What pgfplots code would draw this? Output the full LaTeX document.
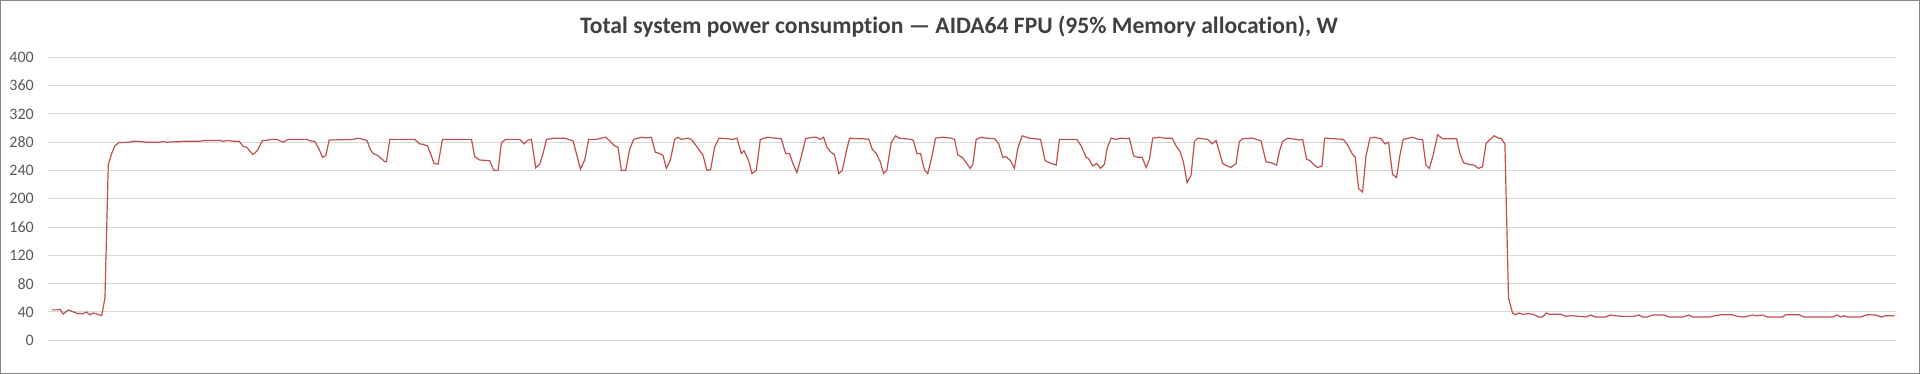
\documentclass[border=0pt]{standalone}
\usepackage{pgfplots}
\pgfplotsset{compat=1.18}
\usepackage{fontspec}
\setmainfont{Carlito}[Ligatures=NoCommon]
\definecolor{lineRed}{RGB}{192,80,77}
\definecolor{gridGray}{RGB}{217,217,217}
\definecolor{titleGray}{RGB}{64,64,64}
\definecolor{tickGray}{RGB}{89,89,89}
\definecolor{frameGray}{RGB}{134,134,134}
\begin{document}
\begin{tikzpicture}[x=1pt,y=1pt]
\useasboundingbox (0,0) rectangle (1920,374);
\draw[frameGray, line width=1pt] (0.5,0.5) rectangle (1919.5,373.5);
\node[anchor=base, font=\fontsize{23.6}{28}\selectfont\bfseries, text=titleGray, inner sep=0pt] at (959,340.7) {Total system power consumption — AIDA64 FPU (95\% Memory allocation), W};
\begin{axis}[
  at={(48pt,33.7pt)}, anchor=south west,
  scale only axis, width=1848pt, height=283pt,
  xmin=48, xmax=1897, ymin=0, ymax=400,
  axis line style={draw=none},
  tick style={draw=none},
  ytick={0,40,...,400}, xtick=\empty,
  ymajorgrids, grid style={gridGray, line width=1pt},
  major tick length=0pt,
  /pgf/number format/assume math mode=true,
  yticklabel style={font=\fontsize{16}{18}\selectfont, text=tickGray, anchor=east, inner sep=0pt, xshift=-14pt},
]
\addplot[lineRed, line width=1.2pt, mark=none] coordinates {
(51.7,43) (56.7,43) (60,43.8) (63.3,37) (68.3,43) (71.7,41) (77.3,38) (82.7,37.6) (86.7,40) (90,36) (93.3,38.6) (97.3,37) (101.7,34.8) (105,60) (108.3,248) (111.7,264) (115,275) (119,279.5) (130,280) (133.3,281.4) (140,281) (146.7,280) (160,280) (163.3,281) (166.7,280) (173.3,280.5) (180,280.5) (183.3,281.4) (200,281.4) (205,282.4) (220,282.4) (223.3,281.4) (228.3,282.4) (233.3,281.4) (239.3,281.4)
(243.3,274) (246.7,273) (252.7,263) (255,264.5) (258.3,270) (262.3,282) (268.3,283) (271.7,284) (276.7,284) (283.3,280) (288.3,284) (306.7,284) (310,282) (315,281) (319.3,270) (322.7,258.6) (326,261) (329.3,283) (353.3,284) (358.3,285.7) (363.3,284) (367.3,282) (370.7,269) (373.3,264) (378.3,261) (381.7,256.7) (385,252.4) (386.7,252.4) (390,284) (415,284) (420,277.6) (423.3,277) (427.7,274.8) (430,266.7) (434.3,250) (438.3,249)
(442.7,284) (471.7,284) (475,259.5) (480,254.8) (490,253.8) (494,240) (498.3,240) (501.7,279.5) (506,284) (520,284) (524.3,277.6) (528.3,283) (531.7,284) (536,243.8) (540,249) (543.3,264) (546.7,284) (555,285.7) (565,285.7) (573.3,282) (576.7,264) (580.7,242) (585,254.8) (589,284) (596.7,284) (606,287) (611.7,279.5) (615,274.8) (618.3,273) (621.7,240) (626,240) (630,270)
(634,284) (641.7,287) (646.7,286) (651.7,287) (655.7,265.7) (660,264) (663.3,261.4) (666.7,243) (670.7,254.8) (675,284) (678.3,287) (681.7,284) (688.3,285.7) (691.7,284) (696.7,274.8) (700,268) (703.3,262) (707.3,240) (711,241.4) (715,273) (719.3,285.7) (726.7,285) (733.3,284) (737.3,285.7) (741.7,264) (744.3,268) (746.7,261.4) (749.3,252.4) (752.3,235.7) (756.7,240.5) (760.7,284) (768.3,287) (775,285.7) (781.7,285) (786,264) (790,264) (793.3,250) (797.3,237) (801.7,259.5) (806,285) (813.3,287)
(816.7,287) (820.7,284) (824,287) (827.3,273) (830.7,266.7) (835,262) (839.3,235.7) (842.7,240) (846.7,266.7) (850,285.7) (858.3,285) (863.3,285) (869.3,284) (872.7,270) (876.7,264) (880.7,252.4) (884,235.7) (887.3,240.5) (891.7,279.5) (896,289) (900,285.7) (911.7,284) (914,282) (917.3,264) (921,264) (925,240.5) (928.3,235.7) (932.7,262) (936,285.7) (943.3,287) (951.7,285.7) (955,284) (958.3,262) (962.7,258.6) (966.7,251) (970.7,243) (973.3,248.6) (976.7,284) (981.7,287) (986.7,285.7) (995,285) (999.3,277.6)
(1003.3,258.6) (1006.7,259.5) (1011,253.8) (1015,243) (1018.3,271.4) (1022.7,289) (1030,285.7) (1041,284) (1045.7,253.8) (1050,251) (1056.7,247.6) (1060,284) (1077.3,284) (1081.7,274.8) (1086.7,258.6) (1089.3,256.7) (1093.3,246.2) (1097.3,250) (1101,243) (1105,248.6) (1107.7,271.4) (1111.7,285.7) (1116.7,284) (1121.7,285.7) (1126.7,285) (1130,285.7) (1134.3,260.5) (1138.3,258.6) (1142.7,258.6) (1146.7,244.3) (1150,255.7) (1153.3,285.7) (1160,287) (1165,285.7) (1172.7,285.7) (1176.7,274.8) (1180.7,266.7) (1184,252.4) (1187.7,222.9) (1191.7,233.3)
(1195,281) (1198.3,285.7) (1208.3,284) (1212.7,277.6) (1216.7,282.4) (1223.3,250) (1227.3,246.7) (1231.7,244.3) (1236.7,250) (1240,281) (1243.3,285) (1253.3,285.7) (1261.7,282) (1266.7,252.4) (1271.7,251) (1277.3,247.6) (1280,266.7) (1283.3,281) (1288.3,285.7) (1296.7,284) (1300,283) (1303.3,284) (1307.3,256) (1310.7,253.8) (1315,247.6) (1318.3,244.3) (1322.7,246.2) (1325.3,285.7) (1344,284) (1348.3,276.2) (1352.7,264) (1356,258.6) (1359.3,214.3) (1363.3,209.5) (1366.7,260.5) (1370.7,285.7) (1375,287) (1381.7,285) (1385.7,277.6)
(1389.3,280) (1393.3,234.3) (1397.3,230) (1400.7,262) (1404,284) (1413.3,287) (1419.3,284) (1423.3,284) (1426.7,247.6) (1430,243) (1434,262) (1438.3,290.5) (1443.3,285) (1457.3,285) (1460.7,264) (1464.3,251) (1469.3,248.6) (1475,247.6) (1479.3,243) (1483.3,245.2) (1486.7,277.6) (1490,283) (1495,289) (1499.3,285.7) (1501.7,285.7) (1505.7,277.6)
(1509.3,60) (1513.3,38.6) (1516,36.2) (1520,38.6) (1523.3,36.7) (1528.3,37.6) (1533.3,37) (1540,32.9) (1543.3,32.9) (1547.3,38.6) (1550,36.7) (1561.7,36.7) (1566.7,33.8) (1571.7,34.8) (1586.7,32.9) (1591.7,35.7) (1596,32.9) (1606.7,32.9) (1610.7,35.7) (1615,34.8) (1623.3,33.8) (1634,33.8) (1640,35.7) (1643.3,32.9) (1648.3,32.9) (1653.3,35.7) (1665,35.7) (1670,32.9) (1683.3,32.9) (1690,35.7) (1693.3,32.9) (1710,32.9) (1716.7,34.8) (1721.7,36.2) (1733.3,36.2) (1738.3,33.8) (1745,32.9) (1753.3,35.7) (1758.3,34.8) (1763.3,35.7) (1768.3,32.9) (1783.3,32.9) (1786.7,36.2) (1800,36.2) (1805,32.9) (1833.3,32.9) (1838.3,35.7) (1841.7,32.9) (1845,34.8) (1848.3,32.9) (1861.7,32.9) (1868.3,36.2) (1876.7,35.7) (1882.7,32.9) (1886.7,34.8) (1895.7,34.8)
};
\end{axis}
\end{tikzpicture}
\end{document}
